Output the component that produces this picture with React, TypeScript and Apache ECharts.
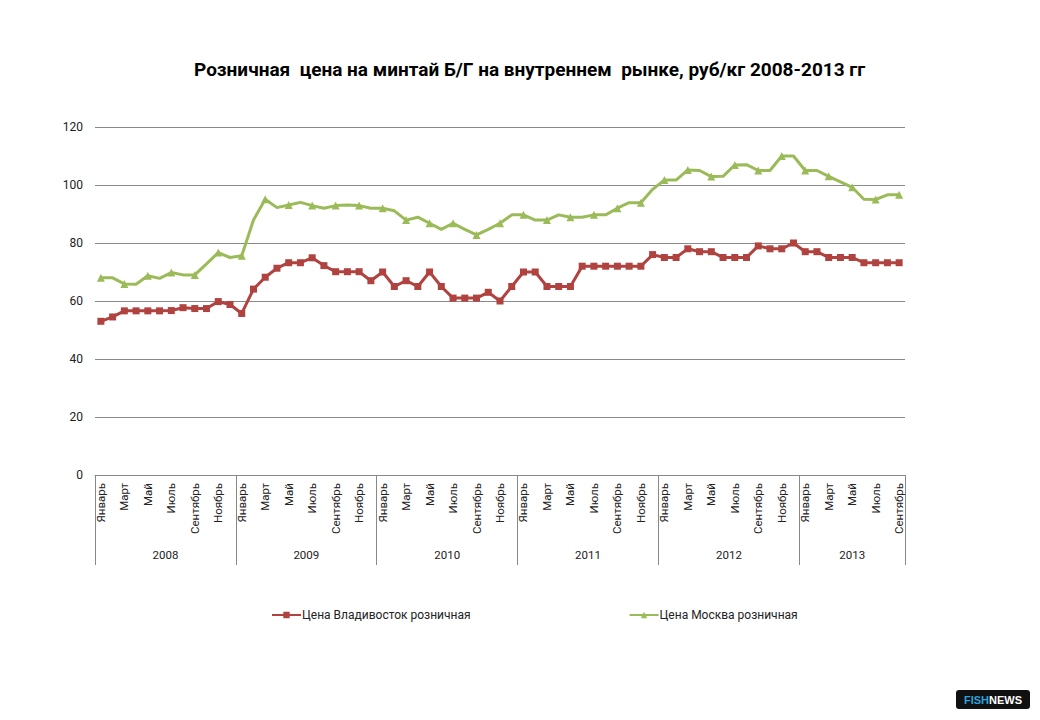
import React, { useEffect, useRef } from "react";
import * as echarts from "echarts";

const MONTHS = ["Январь", "Февраль", "Март", "Апрель", "Май", "Июнь", "Июль", "Август", "Сентябрь", "Октябрь", "Ноябрь", "Декабрь"];
const YEARS = ["2008", "2009", "2010", "2011", "2012", "2013"];
const MONTHS_PER_YEAR = [12, 12, 12, 12, 12, 9];

const vladivostok = [
  53, 54.5, 56.6, 56.6, 56.6, 56.6, 56.7, 57.7, 57.4, 57.4, 59.8, 58.8,
  55.7, 64.1, 68.2, 71.3, 73.2, 73.2, 74.9, 72.2, 70.1, 70.1, 70.1, 67,
  70, 65, 67, 65, 70, 65, 61, 61, 61, 63, 60, 65,
  70, 70, 65, 65, 65, 72, 72, 72, 72, 72, 72, 76,
  75, 75, 78, 77, 77, 75, 75, 75, 79, 78, 78, 80,
  77, 77, 75, 75, 75, 73.2, 73.2, 73.2, 73.2,
];

const moscow = [
  68, 68, 65.9, 65.8, 68.7, 67.8, 69.8, 69, 69, 72.8, 76.7, 75,
  75.6, 87.9, 95.1, 92.2, 93.1, 94, 92.9, 92, 92.9, 93.1, 92.9, 92,
  92, 91.1, 87.9, 88.9, 86.8, 84.7, 86.8, 84.7, 82.8, 84.7, 86.8, 89.7,
  89.7, 87.9, 87.9, 89.7, 88.9, 88.9, 89.7, 89.7, 92, 93.9, 93.9, 98.5,
  101.7, 101.7, 105.2, 105, 102.9, 103, 106.9, 107, 105, 105, 110, 110,
  105, 105, 103, 101.1, 99.2, 95.1, 95, 96.6, 96.6,
];

const TITLE = "Розничная  цена на минтай Б/Г на внутреннем  рынке, руб/кг 2008-2013 гг";
const SERIES_NAMES = ["Цена Владивосток розничная", "Цена Москва розничная"];

const categories: string[] = [];
YEARS.forEach((y, yi) => {
  for (let m = 0; m < MONTHS_PER_YEAR[yi]; m++) categories.push(MONTHS[m] + " " + y);
});
const TOTAL = categories.length;

// year label positions (center of each year block, in month units)
const yearCenters: Record<string, string> = {};
{
  let start = 0;
  YEARS.forEach((y, yi) => {
    yearCenters[String(start + MONTHS_PER_YEAR[yi] / 2)] = y;
    start += MONTHS_PER_YEAR[yi];
  });
}

const FONT = "Roboto";

export default function App() {
  const ref = useRef<HTMLDivElement>(null);
  useEffect(() => {
    document.body.style.margin = "0";
    const chart = echarts.init(ref.current!, undefined, { renderer: "svg" });
    chart.setOption({
      animation: false,
      backgroundColor: "#ffffff",
      textStyle: { fontFamily: FONT },
      title: {
        text: TITLE,
        left: 189,
        top: 55,
        textStyle: { fontFamily: FONT, fontSize: 19, fontWeight: "bold", color: "#000" },
      },
      legend: {
        bottom: 94,
        left: 266,
        itemGap: 158,
        itemWidth: 29,
        itemHeight: 8,
        textStyle: { fontFamily: FONT, fontSize: 12, color: "#222", padding: [0, 0, 0, -4] },
        data: SERIES_NAMES,
      },
      grid: { left: 95, right: 135, top: 127, bottom: 245, containLabel: false },
      xAxis: [
        {
          type: "category",
          data: categories,
          position: "bottom",
          boundaryGap: true,
          axisLine: { show: true, onZero: false, lineStyle: { color: "#888", width: 1 } },
          axisTick: { show: false },
          axisLabel: {
            interval: 1,
            rotate: 90,
            margin: 8,
            fontSize: 11.5,
            color: "#222",
            fontFamily: FONT,
            formatter: (v: string) => v.split(" ")[0],
          },
          splitLine: { show: false },
        },
        {
          type: "value",
          min: 0,
          max: TOTAL,
          interval: 12,
          position: "bottom",
          axisLine: { show: false, onZero: false },
          axisTick: { show: true, inside: false, length: 90, lineStyle: { color: "#888", width: 1 } },
          axisLabel: { show: false },
          splitLine: { show: false },
        },
        {
          type: "value",
          min: 0,
          max: TOTAL,
          interval: 0.5,
          position: "bottom",
          axisLine: { show: false, onZero: false },
          axisTick: { show: false },
          axisLabel: {
            show: true,
            margin: 74,
            fontSize: 11.5,
            color: "#222",
            fontFamily: FONT,
            formatter: (v: number) => yearCenters[String(v)] || "",
          },
          splitLine: { show: false },
        },
      ],
      yAxis: {
        type: "value",
        min: 0,
        max: 120,
        interval: 20,
        axisLine: { show: false },
        axisTick: { show: false },
        axisLabel: { fontSize: 12, color: "#222", margin: 12, fontFamily: FONT },
        splitLine: { show: true, lineStyle: { color: "#8a8a8a", width: 1 } },
      },
      series: [
        {
          name: SERIES_NAMES[0],
          type: "line",
          xAxisIndex: 0,
          data: vladivostok,
          symbol: "rect",
          symbolSize: 7,
          lineStyle: { color: "#B0433F", width: 3 },
          itemStyle: { color: "#B0433F" },
        },
        {
          name: SERIES_NAMES[1],
          type: "line",
          xAxisIndex: 0,
          data: moscow,
          symbol: "triangle",
          symbolSize: 8,
          lineStyle: { color: "#9BBB59", width: 3 },
          itemStyle: { color: "#9BBB59" },
        },
      ],
      graphic: [
        {
          type: "group",
          right: 10,
          bottom: 11,
          children: [
            { type: "rect", shape: { x: 0, y: 0, width: 74, height: 19, r: 3 }, style: { fill: "#111" } },
            {
              type: "text",
              x: 8,
              y: 10,
              style: { text: "FISH", fill: "#2aa3dc", font: "bold 11px 'Liberation Sans'", textVerticalAlign: "middle" },
            },
            {
              type: "text",
              x: 33,
              y: 10,
              style: { text: "NEWS", fill: "#ffffff", font: "bold 11px 'Liberation Sans'", textVerticalAlign: "middle" },
            },
          ],
        },
      ],
    });
    return () => chart.dispose();
  }, []);
  return <div ref={ref} style={{ width: 1040, height: 720 }} />;
}
